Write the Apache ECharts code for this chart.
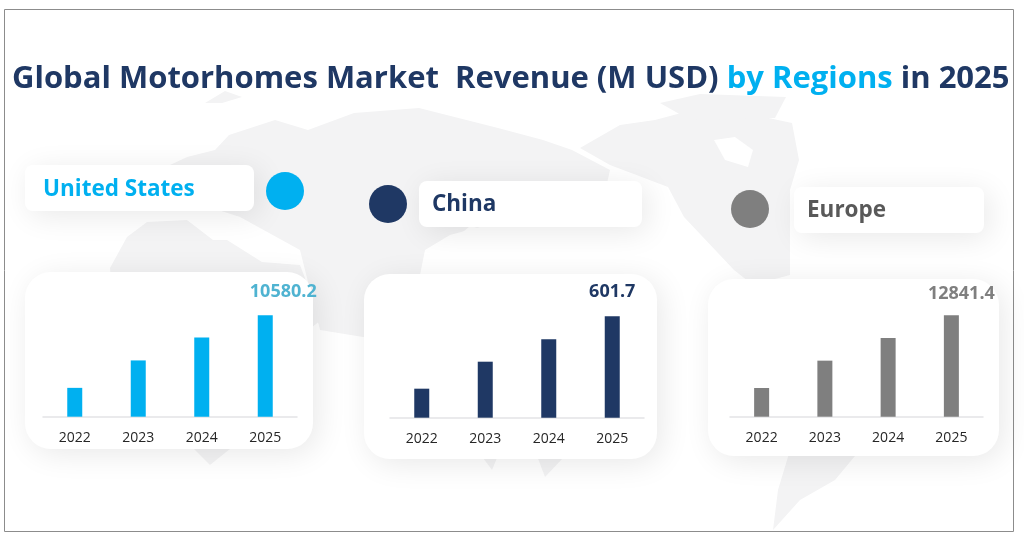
<!DOCTYPE html>
<html><head><meta charset="utf-8">
<style>html,body{margin:0;padding:0;background:#fff}#c{width:1024px;height:545px}</style>
<script src="https://cdn.jsdelivr.net/npm/echarts@6/dist/echarts.min.js"></script>
</head><body><div id="c"></div>
<script>
const years = ['2022','2023','2024','2025'];
const usValues = [3006, 5866, 8244, 10580.2];
const chinaValues = [172, 332, 465.6, 601.7];
const europeValues = [3633, 7091, 9966, 12841.4];
const regionNames = ['United States','China','Europe'];
const regionColors = ['#00B0F0','#1F3864','#7F7F7F'];
const labelColors = ['#4FB3D1','#1F3864','#7F7F7F'];
const titleParts = ['Global Motorhomes Market  Revenue (M USD) ','by Regions',' in 2025'];

const land = [
 [[187,157],[215,150],[229,135],[275,120],[308,130],[354,113],[419,108],[498,128],[543,140],[572,150],[610,170],[600,215],[520,225],[480,227],[450,235],[425,250],[420,275],[395,340],[363,337],[320,330],[300,250],[240,217],[187,200],[170,165]],
 [[110,268],[127,237],[147,222],[187,220],[213,240],[227,240],[262,262],[300,265],[321,320],[290,345],[270,400],[235,445],[210,465],[190,445],[175,400],[150,345],[115,325]],
 [[580,148],[620,125],[655,120],[700,108],[745,113],[792,123],[799,160],[790,190],[790,275],[753,285],[734,270],[684,217],[668,187],[610,165]],
 [[790,450],[860,450],[835,480],[800,500],[773,530],[778,490]],
 [[483,458],[497,458],[492,470]],[[537,456],[565,456],[545,477]],
 [[205,103],[225,91],[242,97],[222,103]],[[660,103],[700,94],[786,97],[775,118],[690,120]]
];
const water = [
 [[187,220],[213,213],[240,217],[233,233],[207,230]],
 [[714,140],[735,137],[753,150],[748,167],[725,160]],
 [[444,248],[470,226],[478,228],[452,252]]
];
const cardSets = [
 {x:25,y:165,w:229,h:46,r:8},{x:419,y:181,w:223,h:46,r:8},{x:794,y:187,w:190,h:46,r:8},
 {x:25,y:272,w:288,h:177,r:26},{x:364,y:274,w:293,h:185,r:26},{x:708,y:279,w:291,h:177,r:26}
];
const dots = [{x:285,y:191},{x:388,y:204},{x:750,y:209}];
const nameText = [{x:43,y:190,c:0},{x:432,y:205,c:1},{x:807,y:211,c:2,col:'#595959'}];

const graphics = [];
land.forEach(p => graphics.push({type:'polygon',silent:true,z:-10,shape:{points:p},style:{fill:'#f3f3f4'}}));
water.forEach(p => graphics.push({type:'polygon',silent:true,z:-9,shape:{points:p},style:{fill:'#ffffff'}}));
graphics.push({type:'rect',z:-8,silent:true,shape:{x:4.5,y:9.5,width:1009,height:522},style:{fill:'none',stroke:'#8c8c8c',lineWidth:1}});
cardSets.forEach(c => graphics.push({type:'rect',z:-5,silent:true,shape:{x:c.x,y:c.y,width:c.w,height:c.h,r:c.r},
  style:{fill:'#fff',shadowBlur:30,shadowColor:'rgba(0,0,0,0.09)',shadowOffsetX:5,shadowOffsetY:5}}));
dots.forEach((d,i) => graphics.push({type:'circle',z:-4,silent:true,shape:{cx:d.x,cy:d.y,r:19},style:{fill:regionColors[i]}}));
nameText.forEach((t,i) => graphics.push({type:'text',z:5,silent:true,style:{x:t.x,y:t.y,text:regionNames[i],fill:t.col||regionColors[t.c],
  font:'bold 22.5px "Open Sans"',textVerticalAlign:'middle'}}));

const ff = '"Open Sans", sans-serif';
const panels = [
 {v:usValues,left:43,right:297,base:416.7,off:[18,-9],c:0},
 {v:chinaValues,left:390,right:644,base:417.7,off:[0,-10],c:1},
 {v:europeValues,left:730,right:983,base:416.7,off:[10,-7],c:2}
];
const option = {
 animation:false,
 title:{left:7,top:59,text:`{a|${titleParts[0]}}{b|${titleParts[1]}}{a|${titleParts[2]}}`,
   textStyle:{rich:{a:{fontFamily:ff,fontWeight:'bold',fontSize:31,color:'#1F3864'},b:{fontFamily:ff,fontWeight:'bold',fontSize:31,color:'#00B0F0'}}}},
 graphic:graphics,
 grid:panels.map(p=>({left:p.left,width:p.right-p.left,top:p.base-101.5,height:101.5})),
 xAxis:panels.map((p,i)=>({type:'category',gridIndex:i,data:years,axisTick:{show:false},
   axisLine:{lineStyle:{color:'#e3e3e6',width:1.5}},
   axisLabel:{margin:14,fontFamily:ff,fontSize:14,color:'#262626'}})),
 yAxis:panels.map((p,i)=>({type:'value',gridIndex:i,min:0,max:p.v[3],show:false,splitLine:{show:false}})),
 series:panels.map((p,i)=>({type:'bar',xAxisIndex:i,yAxisIndex:i,barWidth:15,
   itemStyle:{color:regionColors[p.c]},
   data:p.v.map((val,k)=>k===3?{value:val,label:{show:true,position:'top',offset:p.off,formatter:'{c}',
     fontFamily:ff,fontWeight:'bold',fontSize:18,color:labelColors[p.c]}}:val)}))
};
echarts.init(document.getElementById('c'),null,{renderer:'canvas'}).setOption(option);
</script></body></html>
